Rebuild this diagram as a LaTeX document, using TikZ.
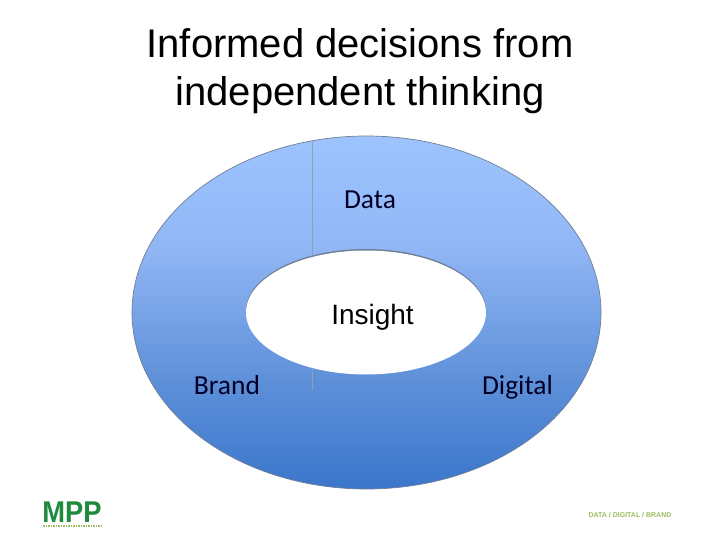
\documentclass[tikz,border=0pt]{standalone}
\usepackage{fontspec}
\setmainfont{Liberation Sans}
\newfontfamily\labelfont{Carlito}
\usetikzlibrary{shapes.geometric}
\definecolor{ringtop}{HTML}{9EC4FF}
\definecolor{ringupper}{HTML}{90B6F5}
\definecolor{ringlower}{HTML}{5D8FD8}
\definecolor{ringbottom}{HTML}{3B76CB}
\definecolor{ringedge}{HTML}{6F7F93}
\definecolor{seamgrey}{HTML}{8F9FB5}
\definecolor{logogreen}{HTML}{1E8A3C}
\definecolor{taggreen}{HTML}{9DBB62}
\pgfdeclareverticalshading{ringfade}{100bp}{
  color(0bp)=(ringbottom); color(25bp)=(ringbottom); color(40bp)=(ringlower);
  color(59bp)=(ringupper); color(75bp)=(ringtop); color(100bp)=(ringtop)}
\tikzset{
  disc/.style={ellipse,inner sep=0pt,outer sep=0pt},
  seam/.style={draw=seamgrey,line width=0.8pt},
  ringlabel/.style={font=\labelfont\fontsize{27.5}{27.5}\selectfont,text=black!85!blue,inner sep=0pt,anchor=base},
}
\begin{document}
\begin{tikzpicture}[x=1pt,y=-1pt]
  \useasboundingbox (0,0) rectangle (720,540);

  \node[inner sep=0pt,font=\fontsize{40}{48}\selectfont,align=center] (title) at (360,71.5)
    {Informed decisions from\\independent thinking};

  \node[disc,draw=ringedge,line width=0.7pt,shading=ringfade,
    minimum width=469pt,minimum height=353pt] (ring) at (366.5,312.5) {};

  \coordinate (seamtop) at (312,141);
  \coordinate (seammid) at (312,256);
  \coordinate (seamlow) at (312,369);
  \coordinate (seamend) at (312,390);
  \draw[seam] (seamtop) -- (seammid);
  \draw[seam] (seamlow) -- (seamend);

  % grey crescent along the top of the hole
  \node[disc,fill=ringedge,minimum width=240pt,minimum height=124pt] (holeback) at (366,311) {};
  \node[disc,fill=white,minimum width=240pt,minimum height=124pt] (hole) at (366,312.5) {};

  \node[ringlabel] (data) at (370,209) {Data};
  \node[ringlabel,font=\fontsize{28}{28}\selectfont,text=black] (insight) at (372.5,324) {Insight};
  \node[ringlabel] (brand) at (227,394) {Brand};
  \node[ringlabel] (digital) at (517.5,394) {Digital};

  \node[inner sep=0pt,text=logogreen,xscale=0.91,font=\bfseries\fontsize{30}{30}\selectfont] (logo) at (72,512) {MPP};
  \coordinate (rulestart) at (43,526);
  \coordinate (ruleend) at (102,526);
  \draw[taggreen,line width=1.2pt,dash pattern=on 1.5pt off 1pt] (rulestart) -- (ruleend);
  \node[inner sep=0pt,text=taggreen,font=\bfseries\fontsize{7}{7}\selectfont] (tag) at (630,515) {DATA / DIGITAL / BRAND};
\end{tikzpicture}
\end{document}
